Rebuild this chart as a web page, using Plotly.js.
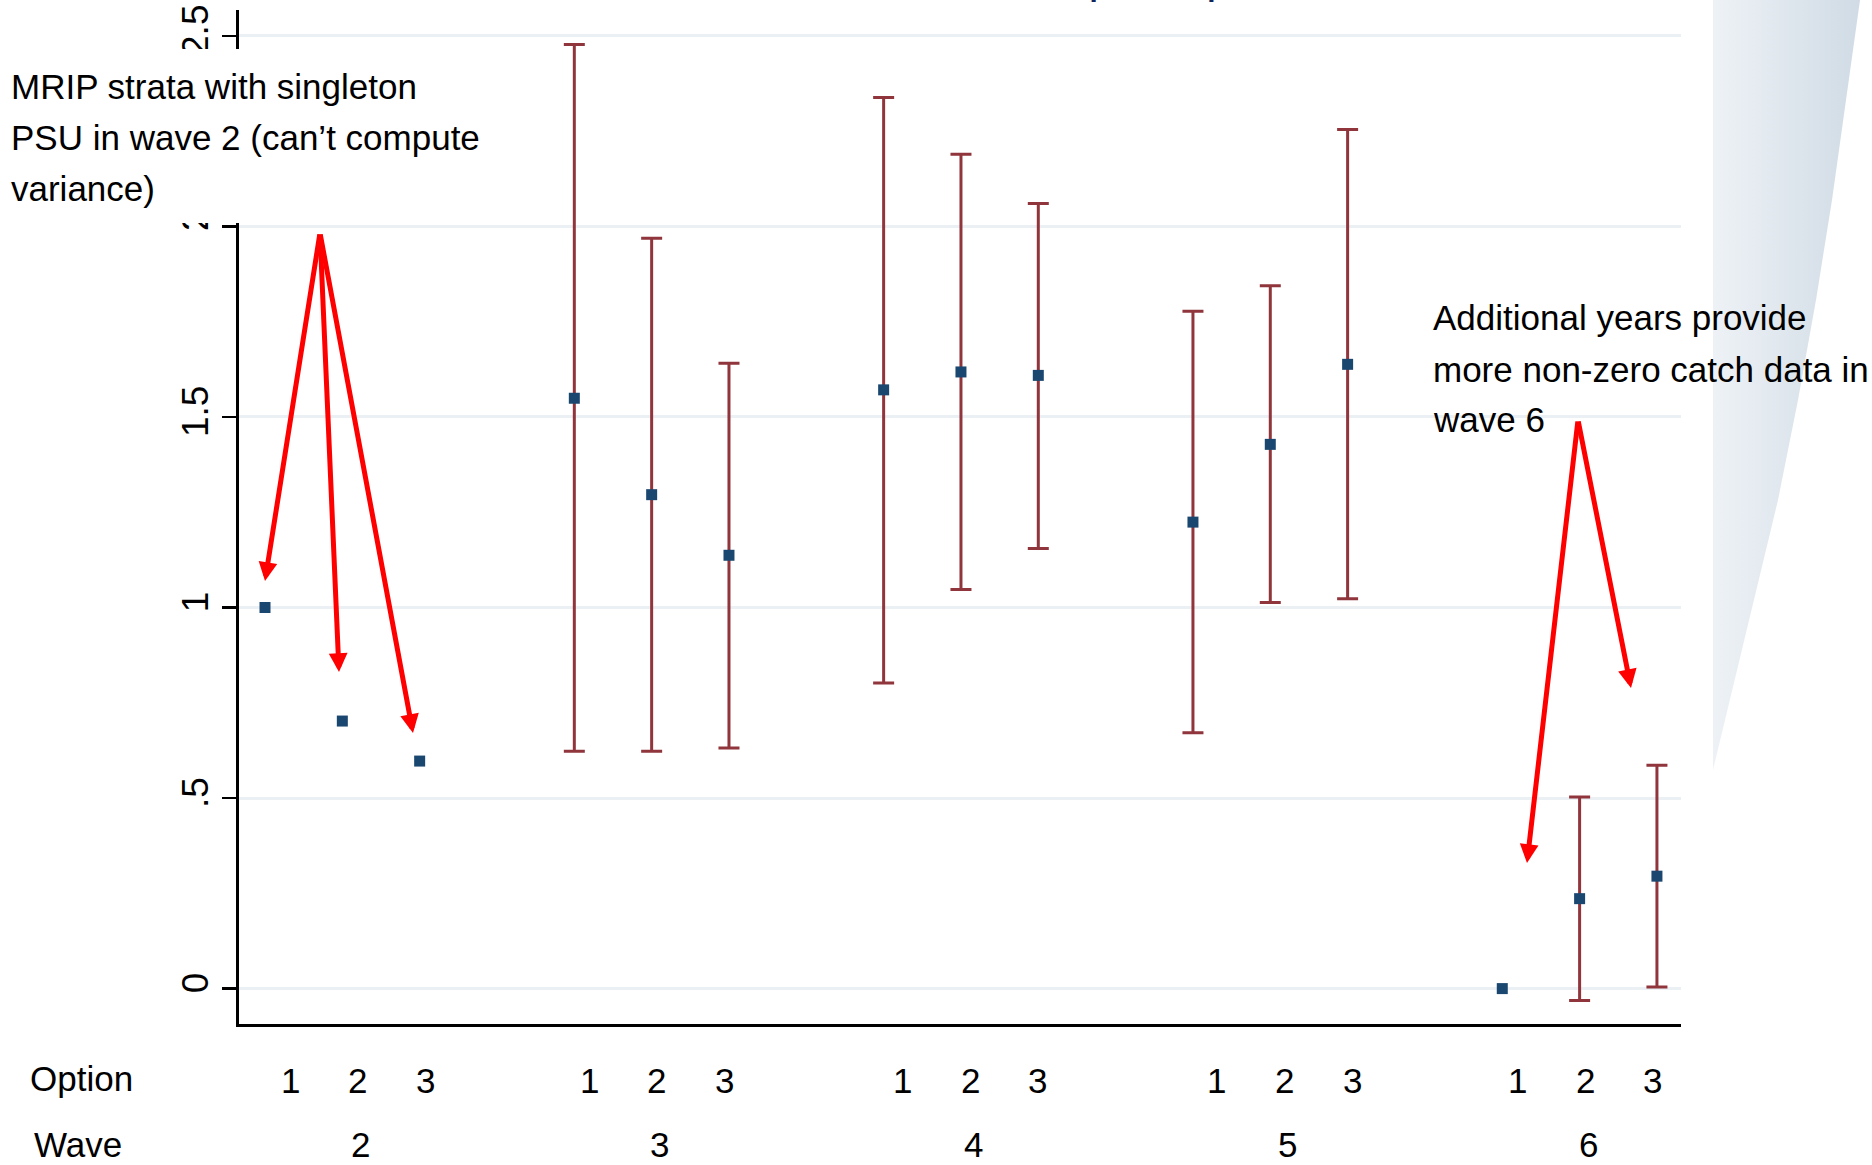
<!DOCTYPE html>
<html>
<head>
<meta charset="utf-8">
<script src="https://cdn.plot.ly/plotly-3.0.1.min.js"></script>
<style>
html,body{margin:0;padding:0;background:#ffffff;}
#chart{width:1872px;height:1165px;}
</style>
</head>
<body>
<div id="chart"></div>
<script>
// ---------------- data ----------------
const waveLabels   = ['2', '3', '4', '5', '6'];
const optionLabels = ['1', '2', '3'];
// point estimates, ordered wave 2 (opt 1,2,3), wave 3 (opt 1,2,3), ...
const estimate = [1.000, 0.702, 0.597,
                  1.549, 1.296, 1.137,
                  1.571, 1.618, 1.609,
                  1.224, 1.428, 1.638,
                  0.000, 0.236, 0.295];
const ciUpper  = [null, null, null,
                  2.477, 1.969, 1.641,
                  2.338, 2.189, 2.060,
                  1.777, 1.844, 2.254,
                  null, 0.503, 0.586];
const ciLower  = [null, null, null,
                  0.623, 0.623, 0.631,
                  0.802, 1.047, 1.155,
                  0.671, 1.013, 1.023,
                  null, -0.031, 0.004];
const yTickVals = [0, 0.5, 1, 1.5, 2, 2.5];
const yTickText = ['0', '.5', '1', '1.5', '2', '2.5'];
const noteLeft  = ['MRIP strata with singleton', 'PSU in wave 2 (can\u2019t compute', 'variance)'];
const noteRight = ['Additional years provide', 'more non-zero catch data in', 'wave 6'];
const titleText = 'Mean catch per trip, with 95% CI';

// ---------------- layout helpers ----------------
const W = 1872, H = 1165;
const px = v => v / W;
const py = v => 1 - v / H;
const FONT = 'Liberation Sans, Arial, Helvetica, sans-serif';
const TXT = 35;

// x position of each point: groups of 3 options separated by one empty slot
const xPos = [];
waveLabels.forEach((w, wi) => optionLabels.forEach((o, oi) => xPos.push(wi * 4 + oi + 1)));

// error-bar subset
const ex = [], ey = [], eplus = [], eminus = [];
estimate.forEach((v, i) => {
  if (ciUpper[i] !== null && ciLower[i] !== null) {
    ex.push(xPos[i]); ey.push(v);
    eplus.push(ciUpper[i] - v); eminus.push(v - ciLower[i]);
  }
});

// decorative gradient shape on the right (page pixel coordinates)
const decoX = [1713, 1860, 1846, 1832, 1816, 1798, 1778, 1754, 1730, 1713, 1713];
const decoY = [0,    0,    100,  200,  300,  400,  500,  600,  700,  770,  0];

const traces = [
  {
    type: 'scatter', x: decoX, y: decoY, xaxis: 'x2', yaxis: 'y2',
    mode: 'lines', fill: 'toself', line: {width: 0, color: 'rgba(0,0,0,0)'},
    fillgradient: {type: 'horizontal', colorscale: [[0, '#eef2f6'], [1, '#d0dbe5']]},
    hoverinfo: 'skip', showlegend: false
  },
  {
    type: 'scatter', x: ex, y: ey, mode: 'markers',
    marker: {size: 11, color: '#1a476f', opacity: 0},
    error_y: {type: 'data', symmetric: false, array: eplus, arrayminus: eminus,
              color: '#90353b', thickness: 3, width: 10.5},
    hoverinfo: 'skip', showlegend: false
  },
  {
    type: 'scatter', x: xPos, y: estimate, mode: 'markers',
    marker: {symbol: 'square', size: 11, color: '#1a476f', line: {width: 0}},
    cliponaxis: false, showlegend: false
  }
];

// plot area in page pixels
const plotL = 238.8, plotR = 1681, plotT = 10, plotB = 1024;
const y0px = 988.6, perUnit = 381.12;
const xUnit = 77.33, x1px = 265;

const annotations = [];
// title fragment (cut at the top edge)
annotations.push({xref: 'paper', yref: 'paper', x: px(836), y: py(4), xanchor: 'left', yanchor: 'bottom',
  text: titleText, showarrow: false, font: {family: FONT, size: 46, color: '#10245a'}});

// left note
const leftY = [86.6, 138, 188.6];
noteLeft.forEach((t, i) => annotations.push({xref: 'paper', yref: 'paper', x: px(9), y: py(leftY[i]),
  xanchor: 'left', yanchor: 'middle', text: t, showarrow: false, font: {family: FONT, size: TXT, color: '#000'}}));
// right note
const rightY = [317.6, 369, 419];
noteRight.forEach((t, i) => annotations.push({xref: 'paper', yref: 'paper', x: px(1431), y: py(rightY[i]),
  xanchor: 'left', yanchor: 'middle', text: t, showarrow: false, font: {family: FONT, size: TXT, color: '#000'}}));

// arrows (tail -> tip, page pixels)
const arrowDefs = [
  [320, 233, 265, 581], [320, 233, 339, 672], [320, 233, 413, 733],
  [1578, 420, 1527, 863], [1578, 420, 1631, 688]
];
arrowDefs.forEach(a => annotations.push({xref: 'paper', yref: 'paper', x: px(a[2]), y: py(a[3]),
  ax: a[0] - a[2], ay: a[1] - a[3], axref: 'pixel', ayref: 'pixel', text: '', showarrow: true,
  arrowhead: 2, arrowsize: 0.75, arrowwidth: 5, arrowcolor: '#ff0000', standoff: 0, startstandoff: 0,
  font: {size: 1}}));

// table-like labels below the axis
const groupCenter = [357.6, 656.7, 970, 1284.4, 1585];
const optStep = 67.6;
annotations.push({xref: 'paper', yref: 'paper', x: px(28), y: py(1078), xanchor: 'left', yanchor: 'middle',
  text: 'Option', showarrow: false, font: {family: FONT, size: TXT, color: '#000'}});
annotations.push({xref: 'paper', yref: 'paper', x: px(32), y: py(1144), xanchor: 'left', yanchor: 'middle',
  text: 'Wave', showarrow: false, font: {family: FONT, size: TXT, color: '#000'}});
waveLabels.forEach((w, wi) => {
  optionLabels.forEach((o, oi) => annotations.push({xref: 'paper', yref: 'paper',
    x: px(groupCenter[wi] + (oi - 1) * optStep), y: py(1080), xanchor: 'center', yanchor: 'middle',
    text: o, showarrow: false, font: {family: FONT, size: TXT, color: '#000'}}));
  annotations.push({xref: 'paper', yref: 'paper', x: px(groupCenter[wi] + 3), y: py(1144),
    xanchor: 'center', yanchor: 'middle', text: w, showarrow: false, font: {family: FONT, size: TXT, color: '#000'}});
});

const layout = {
  width: W, height: H,
  margin: {l: 0, r: 0, t: 0, b: 0, pad: 0},
  paper_bgcolor: '#ffffff', plot_bgcolor: '#ffffff',
  font: {family: FONT, color: '#000'},
  showlegend: false,
  xaxis: {
    domain: [px(plotL), px(plotR)],
    range: [(plotL - x1px) / xUnit + 1, (plotR - x1px) / xUnit + 1],
    showgrid: false, zeroline: false, showticklabels: false, ticks: '',
    showline: true, linecolor: '#000', linewidth: 2.5, fixedrange: true
  },
  yaxis: {
    domain: [py(plotB), py(plotT)],
    range: [-(plotB - y0px) / perUnit, (y0px - plotT) / perUnit],
    tickvals: yTickVals, ticktext: yTickText, tickangle: -90,
    ticks: 'outside', ticklen: 14, tickwidth: 2.5, tickcolor: '#000',
    tickfont: {family: FONT, size: 37, color: '#000'}, ticklabelstandoff: 0,
    showgrid: true, gridcolor: '#eaf0f3', gridwidth: 3, zeroline: false,
    showline: true, linecolor: '#000', linewidth: 2.5, fixedrange: true
  },
  xaxis2: {domain: [px(1700), 1], range: [1700, 1872], visible: false, anchor: 'y2', fixedrange: true},
  yaxis2: {domain: [py(790), 1], range: [790, 0], visible: false, anchor: 'x2', fixedrange: true},
  shapes: [
    // white backing box of the left note (hides the axis behind the text)
    {type: 'rect', xref: 'paper', yref: 'paper', x0: 0, x1: px(485), y0: py(223), y1: py(49),
     fillcolor: '#ffffff', line: {width: 0}, layer: 'above'}
  ],
  annotations: annotations
};

Plotly.newPlot('chart', traces, layout, {displayModeBar: false, staticPlot: true});
</script>
</body>
</html>
